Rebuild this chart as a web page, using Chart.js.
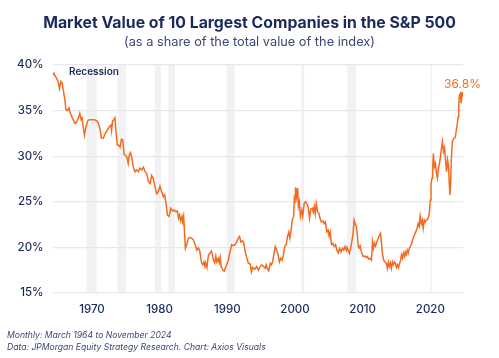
<!DOCTYPE html>
<html>
<head>
<meta charset="utf-8">
<script src="https://cdn.jsdelivr.net/npm/chart.js@4.4.1/dist/chart.umd.min.js"></script>
<style>
  html, body { margin: 0; padding: 0; background: #ffffff; }
  #wrap { position: relative; width: 499px; height: 358px; overflow: hidden; font-family: Inter, "Noto Sans", sans-serif; }
  #c { position: absolute; left: 0; top: 0; }
  .t { position: absolute; left: 0; width: 499px; text-align: center; white-space: nowrap; }
  #title { top: 13px; font-size: 15.8px; line-height: 20px; font-weight: 700; color: #1b2a5c; }
  #sub { top: 33.5px; font-size: 12.8px; line-height: 16px; font-weight: 400; color: #3b4775; }
  .foot { position: absolute; left: 7px; font-size: 8.6px; line-height: 12px; font-style: italic; color: #3b4775; white-space: nowrap; }
  #f1 { top: 328.5px; }
  #f2 { top: 341px; }
</style>
</head>
<body>
<div id="wrap">
  <canvas id="c" width="499" height="358"></canvas>
  <div id="title" class="t">Market Value of 10 Largest Companies in the S&amp;P 500</div>
  <div id="sub" class="t">(as a share of the total value of the index)</div>
  <div id="f1" class="foot">Monthly: March 1964 to November 2024</div>
  <div id="f2" class="foot">Data: JPMorgan Equity Strategy Research. Chart: Axios Visuals</div>
</div>
<script>
// ---- data (decimal years, % share) ----
const dates = [
1964.17,1964.4,1964.55,1964.8,1965.0,1965.2,1965.4,1965.6,1965.75,1966.0,1966.15,1966.35,1966.6,1966.8,1967.1,1967.5,1967.7,1968.0,1968.2,1968.4,1968.55,1968.7,1968.9,1969.1,1969.4,1969.6,1969.95,1970.3,1970.7,1970.95,
1971.2,1971.4,1971.7,1971.9,1972.3,1972.55,1972.8,1972.9,1973.05,1973.25,1973.4,1973.55,1973.75,1973.95,1974.15,1974.35,1974.55,1974.75,1974.95,1975.15,1975.35,1975.5,1975.7,1975.9,1976.1,1976.35,1976.6,1976.85,1977.1,1977.35,
1977.6,1977.85,1978.1,1978.35,1978.6,1978.8,1979.05,1979.3,1979.55,1979.8,1980.05,1980.3,1980.55,1980.75,1980.95,1981.15,1981.4,1981.65,1981.9,1982.15,1982.4,1982.6,1982.8,1982.95,1983.1,1983.3,1983.4,1983.55,1983.7,1983.8,
1984.0,1984.25,1984.5,1984.75,1985.0,1985.25,1985.5,1985.7,1985.9,1986.1,1986.2,1986.4,1986.55,1986.7,1986.8,1987.0,1987.1,1987.25,1987.45,1987.65,1987.8,1987.95,1988.15,1988.3,1988.45,1988.65,1988.8,1988.95,1989.1,1989.35,
1989.55,1989.7,1989.9,1990.15,1990.4,1990.65,1990.9,1991.15,1991.4,1991.6,1991.8,1992.0,1992.2,1992.4,1992.65,1992.9,1993.1,1993.4,1993.55,1993.75,1994.05,1994.35,1994.6,1994.85,1995.1,1995.35,1995.6,1995.75,1995.9,1996.1,
1996.35,1996.5,1996.7,1996.9,1997.1,1997.3,1997.5,1997.7,1997.9,1998.1,1998.3,1998.5,1998.7,1998.9,1999.1,1999.25,1999.4,1999.6,1999.8,1999.9,2000.0,2000.1,2000.25,2000.4,2000.5,2000.65,2000.8,2001.0,2001.15,2001.35,
2001.55,2001.75,2001.95,2002.15,2002.35,2002.55,2002.7,2002.85,2003.0,2003.15,2003.35,2003.55,2003.7,2003.9,2004.15,2004.3,2004.5,2004.7,2004.9,2005.05,2005.2,2005.4,2005.6,2005.8,2006.0,2006.2,2006.4,2006.6,2006.8,2007.0,
2007.2,2007.4,2007.6,2007.7,2007.9,2008.05,2008.3,2008.55,2008.75,2008.9,2009.05,2009.2,2009.35,2009.5,2009.6,2009.75,2009.95,2010.1,2010.35,2010.5,2010.7,2010.9,2011.1,2011.3,2011.45,2011.6,2011.75,2011.9,2012.1,2012.3,
2012.5,2012.65,2012.8,2012.95,2013.1,2013.3,2013.5,2013.65,2013.8,2013.95,2014.1,2014.25,2014.4,2014.55,2014.7,2014.85,2015.0,2015.15,2015.3,2015.45,2015.6,2015.75,2015.9,2016.05,2016.2,2016.3,2016.45,2016.6,2016.75,2016.9,
2017.05,2017.25,2017.45,2017.65,2017.85,2018.05,2018.2,2018.35,2018.5,2018.65,2018.8,2018.95,2019.1,2019.25,2019.45,2019.65,2019.85,2020.0,2020.1,2020.25,2020.35,2020.45,2020.6,2020.75,2020.9,2021.05,2021.2,2021.35,2021.5,2021.65,
2021.8,2021.95,2022.1,2022.25,2022.4,2022.55,2022.7,2022.8,2022.9,2023.0,2023.1,2023.25,2023.4,2023.55,2023.7,2023.85,2024.0,2024.1,2024.2,2024.3,2024.45,2024.55,2024.7,2024.83
];
const shares = [
38.9,39.1,38.8,38.5,38.2,37.4,38.2,38.0,37.3,36.2,35.1,35.0,35.3,34.7,34.2,33.6,33.7,34.2,34.7,34.0,34.2,33.2,32.3,33.2,33.9,34.0,34.0,34.0,33.9,33.6,
32.9,32.0,32.0,32.4,32.9,33.2,33.4,32.8,33.9,34.0,34.2,32.7,31.2,31.2,31.0,31.85,31.8,30.2,30.1,29.9,29.2,30.1,30.4,29.8,28.85,28.3,28.5,28.3,28.7,28.5,
28.8,28.3,28.1,27.2,27.0,27.9,27.6,26.7,25.9,26.1,26.7,26.1,25.55,25.75,24.8,23.55,23.4,24.3,24.0,24.1,23.9,24.0,23.2,23.55,22.9,23.4,22.8,23.4,21.35,19.9,
20.3,21.0,21.1,21.0,20.8,20.3,19.7,19.95,19.7,18.8,18.3,18.1,18.4,17.9,18.3,17.8,18.6,19.2,19.35,19.6,19.2,18.6,18.3,19.0,18.4,18.8,18.3,18.9,17.9,17.5,
17.4,17.7,18.1,18.6,19.5,20.3,20.2,20.3,20.6,21.0,21.2,20.6,20.7,20.6,19.5,18.8,18.3,18.15,17.3,17.8,17.6,17.9,17.5,17.9,18.1,17.9,17.7,18.1,17.7,17.45,
18.25,18.1,18.4,19.35,20.1,19.7,19.2,18.4,18.8,18.6,19.2,20.1,20.3,21.2,21.7,21.0,21.7,23.0,23.4,25.2,24.8,26.6,25.55,26.5,24.5,25.0,23.4,24.1,23.4,24.8,
25.0,24.8,24.5,23.2,24.2,24.3,23.9,24.5,23.7,24.8,23.9,23.7,23.2,22.8,22.9,22.6,22.8,21.7,21.9,21.25,21.7,20.3,20.45,20.1,20.3,19.7,19.4,19.9,19.5,19.9,
19.7,20.1,19.7,20.0,19.6,19.35,20.2,21.3,23.0,22.6,22.3,21.55,20.1,19.9,20.3,19.7,19.2,19.0,19.05,18.9,19.0,18.7,18.8,18.6,20.6,19.9,20.45,20.15,20.6,21.0,
21.35,21.55,20.3,19.2,18.6,18.4,18.25,17.7,18.4,17.9,18.3,17.7,18.4,18.1,18.4,18.25,17.8,18.1,17.8,18.2,18.6,19.2,18.8,19.35,19.0,19.5,19.2,19.7,19.4,19.9,
20.1,20.45,21.0,21.35,21.7,22.1,22.6,22.3,23.4,22.6,23.0,22.1,23.0,22.8,23.0,23.1,23.75,25.2,27.0,27.6,28.5,30.3,28.85,29.2,28.1,27.6,28.7,29.2,29.95,30.9,
31.6,30.5,30.9,29.6,28.3,29.6,28.85,27.0,25.75,27.0,29.6,31.6,31.85,32.0,32.1,32.9,33.6,34.3,35.4,36.7,36.9,35.8,36.7,36.8
];
const tickYears = [1970, 1980, 1990, 2000, 2010, 2020];
const yTicks = [15, 20, 25, 30, 35, 40];
const recessionStart = [1969.22, 1973.74, 1979.32, 1981.29, 1989.91, 2000.92, 2007.72, 2020.05];
const recessionEnd   = [1970.70, 1975.03, 1980.21, 1982.28, 1991.09, 2001.37, 2009.05, 2020.25];
const recessionLabel = "Recession";
const lastLabel = "36.8%";

const NAVY = '#1b2a5c';
const ORANGE = '#f26b21';

const points = dates.map((d, i) => ({ x: d, y: shares[i] }));
const radii = dates.map((d, i) => i === dates.length - 1 ? 2.5 : 0);

const bandPlugin = {
  id: 'bands',
  beforeDraw(chart) {
    const { ctx, chartArea, scales } = chart;
    ctx.save();
    ctx.fillStyle = '#f2f2f4';
    for (let i = 0; i < recessionStart.length; i++) {
      const x0 = scales.x.getPixelForValue(recessionStart[i]);
      const x1 = scales.x.getPixelForValue(recessionEnd[i]);
      ctx.fillRect(x0, chartArea.top, Math.max(1.2, x1 - x0), chartArea.bottom - chartArea.top);
    }
    ctx.restore();
  },
  afterDatasetsDraw(chart) {
    const { ctx, chartArea, scales } = chart;
    ctx.save();
    ctx.fillStyle = NAVY;
    ctx.font = '600 10px Inter, "Noto Sans", sans-serif';
    ctx.textBaseline = 'middle';
    ctx.textAlign = 'left';
    ctx.fillText(recessionLabel, chartArea.left + 16.5, chartArea.top + 7);
    const n = dates.length - 1;
    const px = scales.x.getPixelForValue(dates[n]);
    const py = scales.y.getPixelForValue(shares[n]);
    ctx.fillStyle = ORANGE;
    ctx.font = '400 12px Inter, "Noto Sans", sans-serif';
    ctx.textAlign = 'center';
    ctx.fillText(lastLabel, px - 0.5, py - 10);
    ctx.restore();
  }
};

new Chart(document.getElementById('c'), {
  type: 'line',
  data: {
    datasets: [{
      data: points,
      borderColor: ORANGE,
      backgroundColor: ORANGE,
      borderWidth: 1.5,
      pointRadius: radii,
      pointHoverRadius: 0,
      pointBorderWidth: 0,
      tension: 0,
      fill: false
    }]
  },
  plugins: [bandPlugin],
  options: {
    responsive: false,
    animation: false,
    events: [],
    layout: { padding: { top: 65, left: 0, right: 36, bottom: 35 } },
    plugins: { legend: { display: false }, tooltip: { enabled: false }, title: { display: false } },
    scales: {
      x: {
        type: 'linear',
        min: dates[0],
        max: dates[dates.length - 1],
        grid: { display: false, drawTicks: false },
        border: { display: false },
        afterBuildTicks: (s) => { s.ticks = tickYears.map(v => ({ value: v })); },
        afterFit: (s) => { s.height = 30; },
        ticks: {
          padding: 9.5,
          color: NAVY,
          font: { family: 'Inter, "Noto Sans", sans-serif', size: 11.5, weight: '500' },
          maxRotation: 0,
          autoSkip: false,
          callback: (v) => String(v)
        }
      },
      y: {
        type: 'linear',
        min: yTicks[0],
        max: yTicks[yTicks.length - 1],
        afterBuildTicks: (s) => { s.ticks = yTicks.map(v => ({ value: v })); },
        afterFit: (s) => { s.width = 52.5; },
        grid: { color: '#e6e7ef', lineWidth: 1.3, drawTicks: false },
        border: { display: false },
        ticks: {
          padding: 9,
          color: NAVY,
          font: { family: 'Inter, "Noto Sans", sans-serif', size: 11.5, weight: '500' },
          callback: (v) => v + '%'
        }
      }
    }
  }
});
</script>
</body>
</html>
